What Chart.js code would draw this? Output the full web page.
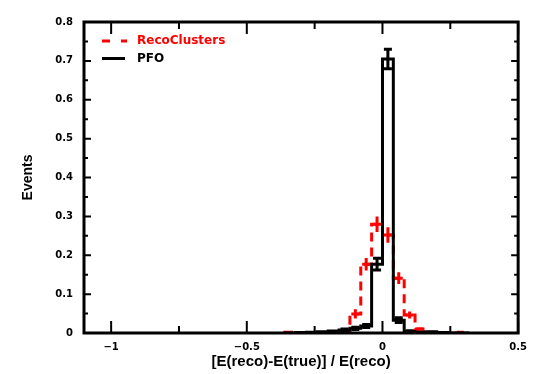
<!DOCTYPE html>
<html><head><meta charset="utf-8">
<script src="https://cdn.jsdelivr.net/npm/chart.js@4"></script>
<style>html,body{margin:0;padding:0;background:#fff}canvas{display:block}</style>
</head><body>
<canvas id="c" width="535" height="374"></canvas>
<script>
// ---- data ----
const binWidth = 0.04;
const binLeftEdges = [-0.36,-0.32,-0.28,-0.24,-0.20,-0.16,-0.12,-0.08,-0.04,0.00,0.04,0.08,0.12,0.16,0.20,0.24,0.28];
const recoValues = [0.002,0,0,0,0,0.002,0.049,0.177,0.280,0.252,0.141,0.046,0.010,0.002,0,0,0.002];
const recoErrors = [0,0,0,0,0,0,0.012,0.016,0.020,0.020,0.015,0.009,0.004,0,0,0,0];
const pfoValues  = [0,0.001,0.002,0.003,0.005,0.008,0.012,0.018,0.177,0.705,0.033,0.004,0.003,0.003,0.001,0,0];
const pfoErrors  = [0,0,0,0,0,0.002,0.003,0.004,0.015,0.025,0.006,0.002,0,0,0,0,0];
const seriesNames = ['RecoClusters','PFO'];
const xTickValues = [-1,-0.5,0,0.5];
const xTickLabels = ['\u22121','\u22120.5','0','0.5'];
const xMinorTicks = [-0.75,-0.25,0.25];
const yTickValues = [0,0.1,0.2,0.3,0.4,0.5,0.6,0.7,0.8];
const yTickLabels = ['0','0.1','0.2','0.3','0.4','0.5','0.6','0.7','0.8'];
const yMinorTicks = [0.05,0.15,0.25,0.35,0.45,0.55,0.65,0.75];
const xTitle = '[E(reco)-E(true)] / E(reco)';
const yTitle = 'Events';

function histPoints(values){
  const pts = [{x: binLeftEdges[0], y: 0}];
  values.forEach((v,i)=>pts.push({x: binLeftEdges[i], y: v}));
  pts.push({x: binLeftEdges[binLeftEdges.length-1] + binWidth, y: 0});
  return pts;
}

const RED = '#ff0000', BLACK = '#000000';

const framePlugin = {
  id: 'frameAndExtras',
  afterDatasetsDraw(chart){
    const ctx = chart.ctx, xs = chart.scales.x, ys = chart.scales.y;
    ctx.save();
    // error bars - reco
    ctx.strokeStyle = RED; ctx.lineWidth = 3; ctx.setLineDash([]);
    recoValues.forEach((v,i)=>{
      const e = recoErrors[i]; if (!e) return;
      const xc = xs.getPixelForValue(binLeftEdges[i] + binWidth/2);
      ctx.beginPath();
      ctx.moveTo(xc, ys.getPixelForValue(v - e)); ctx.lineTo(xc, ys.getPixelForValue(v + e));
      ctx.moveTo(xc - 4, ys.getPixelForValue(v)); ctx.lineTo(xc + 4, ys.getPixelForValue(v));
      ctx.stroke();
    });
    // error bars - pfo
    ctx.strokeStyle = BLACK;
    pfoValues.forEach((v,i)=>{
      const e = pfoErrors[i]; if (!e) return;
      const xc = xs.getPixelForValue(binLeftEdges[i] + binWidth/2);
      const y1 = ys.getPixelForValue(v - e), y2 = ys.getPixelForValue(v + e);
      ctx.beginPath();
      ctx.moveTo(xc, y1); ctx.lineTo(xc, y2);
      ctx.moveTo(xc - 4, y1); ctx.lineTo(xc + 4, y1);
      ctx.moveTo(xc - 4, y2); ctx.lineTo(xc + 4, y2);
      ctx.stroke();
    });
    ctx.restore();
  },
  afterDraw(chart){
    const ctx = chart.ctx, xs = chart.scales.x, ys = chart.scales.y;
    const a = chart.chartArea;
    ctx.save();
    ctx.strokeStyle = BLACK; ctx.setLineDash([]);
    ctx.lineWidth = 3;
    ctx.strokeRect(a.left, a.top, a.right - a.left, a.bottom - a.top);
    ctx.lineWidth = 2;
    ctx.beginPath();
    const xTick = (v, len) => { const p = xs.getPixelForValue(v);
      ctx.moveTo(p, a.bottom); ctx.lineTo(p, a.bottom - len);
      ctx.moveTo(p, a.top); ctx.lineTo(p, a.top + len); };
    const yTick = (v, len) => { const p = ys.getPixelForValue(v);
      ctx.moveTo(a.left, p); ctx.lineTo(a.left + len, p);
      ctx.moveTo(a.right, p); ctx.lineTo(a.right - len, p); };
    xTickValues.forEach(v=>xTick(v, 12));
    xMinorTicks.forEach(v=>xTick(v, 7));
    yTickValues.forEach(v=>yTick(v, 7));
    yMinorTicks.forEach(v=>yTick(v, 4));
    ctx.stroke();
    // legend
    ctx.lineWidth = 3;
    ctx.strokeStyle = RED; ctx.setLineDash([8,11]);
    ctx.beginPath(); ctx.moveTo(102, 41); ctx.lineTo(127, 41); ctx.stroke();
    ctx.setLineDash([]); ctx.strokeStyle = BLACK;
    ctx.beginPath(); ctx.moveTo(102, 58.5); ctx.lineTo(125, 58.5); ctx.stroke();
    ctx.font = 'bold 12px "DejaVu Sans"';
    ctx.textBaseline = 'middle'; ctx.textAlign = 'left';
    ctx.fillStyle = RED; ctx.fillText(seriesNames[0], 137, 41);
    ctx.fillStyle = BLACK; ctx.fillText(seriesNames[1], 137, 58.5);
    ctx.restore();
  }
};

new Chart(document.getElementById('c'), {
  type: 'line',
  data: { datasets: [
    { label: seriesNames[1], data: histPoints(pfoValues), borderColor: BLACK, borderWidth: 3,
      stepped: 'before', pointRadius: 0, fill: false, borderCapStyle: 'butt' },
    { label: seriesNames[0], data: histPoints(recoValues), borderColor: RED, borderWidth: 3,
      borderDash: [9,6], stepped: 'before', pointRadius: 0, fill: false }
  ]},
  options: {
    responsive: false, animation: false,
    layout: { padding: { left: 0, right: 14, top: 22, bottom: 0 } },
    plugins: { legend: { display: false }, tooltip: { enabled: false } },
    scales: {
      x: { type: 'linear', min: -1.1, max: 0.5,
        afterBuildTicks: s => { s.ticks = xTickValues.map(v => ({ value: v })); },
        afterFit: s => { s.height = 41; },
        ticks: { callback: (v) => xTickLabels[xTickValues.indexOf(v)], color: BLACK,
          font: { family: 'DejaVu Sans', weight: 'bold', size: 10 }, padding: 8, maxRotation: 0, autoSkip: false },
        grid: { display: false, drawTicks: false }, border: { display: false },
        title: { display: true, text: xTitle, color: BLACK,
          font: { family: 'Liberation Sans', weight: 'bold', size: 15 }, padding: { top: 0, bottom: 3 } } },
      y: { type: 'linear', min: 0, max: 0.8,
        afterBuildTicks: s => { s.ticks = yTickValues.map(v => ({ value: v })); },
        afterFit: s => { s.width = 84; },
        ticks: { callback: (v) => yTickLabels[yTickValues.indexOf(v)], color: BLACK,
          font: { family: 'DejaVu Sans', weight: 'bold', size: 10 }, padding: 11, autoSkip: false },
        grid: { display: false, drawTicks: false }, border: { display: false },
        title: { display: true, text: yTitle, color: BLACK,
          font: { family: 'Liberation Sans', weight: 'bold', size: 14 }, padding: { top: 20, bottom: 0 } } }
    }
  },
  plugins: [framePlugin]
});
</script>
</body></html>
